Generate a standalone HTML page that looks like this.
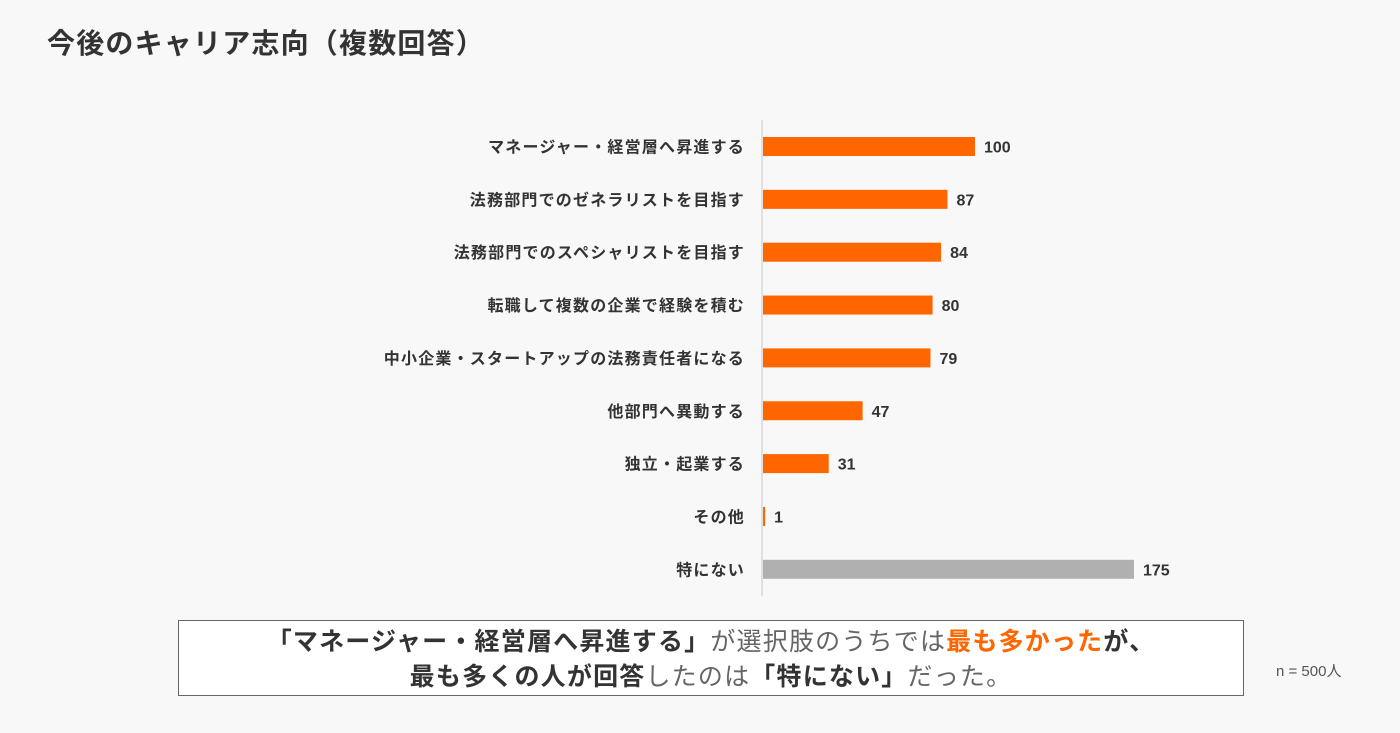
<!DOCTYPE html>
<html><head><meta charset="utf-8"><style>
body{margin:0;width:1400px;height:733px;background:#f8f8f8;font-family:"Liberation Sans","Noto Sans CJK JP",sans-serif;overflow:hidden;position:relative;color:#333}
.title{position:absolute;left:47px;top:22px;font-size:28px;letter-spacing:1.2px;font-weight:bold;color:#333}
.box{position:absolute;left:178px;top:620px;width:1066px;height:76px;border:1.5px solid #666;background:#fff;text-align:center;font-size:25px;letter-spacing:1.2px;line-height:35px;padding-top:4px;box-sizing:border-box;color:#333}
.b{font-weight:bold}.o{color:#ff6600;font-weight:bold}.g{color:#666}
.n{position:absolute;left:1276px;top:660px;font-size:15px;color:#555}
</style></head><body>
<div class="title">今後のキャリア志向（複数回答）</div>
<svg id="chart" width="1400" height="610" style="position:absolute;left:0;top:0"></svg>
<div class="box"><span class="b">「マネージャー・経営層へ昇進する」</span><span class="g">が選択肢のうちでは</span><span class="o">最も多かった</span><span class="b">が、</span><br><span class="b">最も多くの人が回答</span><span class="g">したのは</span><span class="b">「特にない」</span><span class="g">だった。</span></div>
<div class="n">n = 500人</div>
<script>
const categories=["マネージャー・経営層へ昇進する","法務部門でのゼネラリストを目指す","法務部門でのスペシャリストを目指す","転職して複数の企業で経験を積む","中小企業・スタートアップの法務責任者になる","他部門へ異動する","独立・起業する","その他","特にない"];
const values=[100,87,84,80,79,47,31,1,175];
const x0=763,scale=2.12,y0=146.5,step=52.85,bh=19;
const xs=v=>x0+v*scale, ys=i=>y0+i*step;
const svg=document.getElementById('chart');const NS="http://www.w3.org/2000/svg";
const ax=document.createElementNS(NS,'line');


ax.setAttribute('x1',762);ax.setAttribute('x2',762);ax.setAttribute('y1',120);ax.setAttribute('y2',596);ax.setAttribute('stroke','#d8d8d8');ax.setAttribute('stroke-width','1.5');svg.appendChild(ax);
categories.forEach((c,i)=>{
const y=ys(i);
const t=document.createElementNS(NS,'text');


t.setAttribute('x',745);t.setAttribute('y',y+6);t.setAttribute('text-anchor','end');t.setAttribute('font-size','16');t.setAttribute('letter-spacing','1.2');t.setAttribute('font-weight','bold');t.setAttribute('fill','#333');t.textContent=c;svg.appendChild(t);
const r=document.createElementNS(NS,'rect');


r.setAttribute('x',x0);r.setAttribute('y',y-bh/2);r.setAttribute('width',Math.max(values[i]*scale,2));r.setAttribute('height',bh);r.setAttribute('fill',i===categories.length-1?'#b0b0b0':'#ff6600');svg.appendChild(r);
const v=document.createElementNS(NS,'text');


v.setAttribute('x',xs(values[i])+9);v.setAttribute('y',y+6);v.setAttribute('font-size','16');v.setAttribute('font-weight','bold');v.setAttribute('fill','#333');v.textContent=values[i];svg.appendChild(v);
});
</script>
</body></html>
